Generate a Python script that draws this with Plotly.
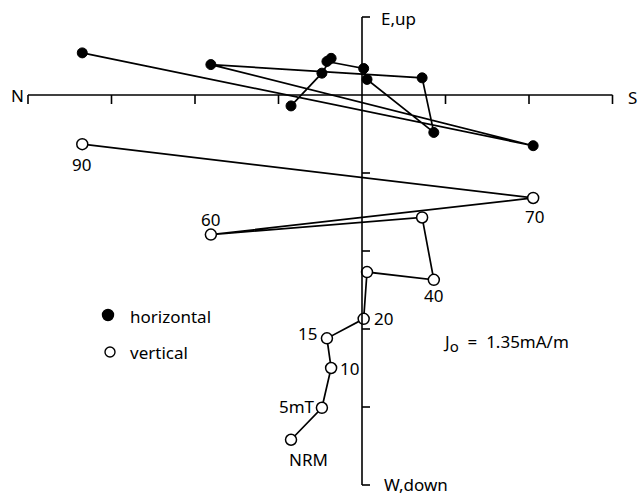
import plotly.graph_objects as go

# Demagnetisation steps (AF, mT)
steps = ["NRM", "5mT", "10", "15", "20", "30", "40", "50", "60", "70", "90"]
# N-S component (shared by both projections), S positive
x_ns = [-0.85, -0.48, -0.37, -0.42, 0.02, 0.06, 0.86, 0.72, -1.81, 2.05, -3.35]
# horizontal projection: E (up on plot) positive
h_ew = [-0.14, 0.28, 0.47, 0.43, 0.34, 0.20, -0.48, 0.22, 0.39, -0.65, 0.54]
# vertical projection: up positive
v_ud = [-4.42, -4.01, -3.50, -3.12, -2.87, -2.27, -2.37, -1.57, -1.79, -1.32, -0.63]

# label placement (pixel offsets) for labelled vertical points
label_pos = {
    "NRM": (-4, -20, "left"),
    "5mT": (-5, 1, "right"),
    "10": (7, 0, "left"),
    "15": (-8, 5, "right"),
    "20": (8, 0, "left"),
    "40": (0, -16, "center"),
    "60": (0, 15, "center"),
    "70": (1, -19, "center"),
    "90": (-1, -20, "center"),
}

x_ticks = [-4, -3, -2, -1, 1, 2, 3]
y_ticks = [1, -1, -2, -3, -4, -5]

FONT = "Noto Sans, DejaVu Sans, Liberation Sans, sans-serif"
FS = 17
W, H = 639, 495
px_x = 83.5
px_y = 78.0
x0_px, y0_px = 362, 95
xr = [-x0_px / px_x, (W - x0_px) / px_x]
yr = [-(H - y0_px) / px_y, y0_px / px_y]

fig = go.Figure()

fig.add_trace(go.Scatter(
    x=x_ns, y=h_ew, mode="lines+markers",
    line=dict(color="black", width=1.7),
    marker=dict(symbol="circle", size=10, color="black",
                line=dict(color="black", width=1)),
    showlegend=False, cliponaxis=False))
fig.add_trace(go.Scatter(
    x=x_ns, y=v_ud, mode="lines+markers",
    line=dict(color="black", width=1.7),
    marker=dict(symbol="circle", size=11, color="white",
                line=dict(color="black", width=1.5)),
    showlegend=False, cliponaxis=False))

shapes = []
ax_line = dict(color="black", width=1.6)
# horizontal (N-S) axis
shapes.append(dict(type="line", xref="x", yref="y", x0=min(x_ticks), x1=max(x_ticks),
                   y0=0, y1=0, line=ax_line))
tick_dy = 9 / px_y
for t in x_ticks:
    shapes.append(dict(type="line", xref="x", yref="y", x0=t, x1=t, y0=0, y1=-tick_dy,
                       line=ax_line))
# vertical axis
shapes.append(dict(type="line", xref="x", yref="y", x0=0, x1=0, y0=min(y_ticks),
                   y1=max(y_ticks), line=ax_line))
tick_dx = 8 / px_x
for t in y_ticks:
    shapes.append(dict(type="line", xref="x", yref="y", x0=0, x1=tick_dx, y0=t, y1=t,
                       line=ax_line))

# legend symbols (paper coords)
def circ(cx, cy, r, fill):
    return dict(type="circle", xref="paper", yref="paper",
                x0=(cx - r) / W, x1=(cx + r) / W,
                y0=1 - (cy + r) / H, y1=1 - (cy - r) / H,
                fillcolor=fill, line=dict(color="black", width=1.4))

shapes.append(circ(108, 315, 5.5, "black"))
shapes.append(circ(110, 352, 5, "white"))

ann = []
f = dict(family=FONT, size=FS, color="black")
for name, x, y in zip(steps, x_ns, v_ud):
    if name in label_pos:
        dx, dy, anchor = label_pos[name]
        ann.append(dict(x=x, y=y, xref="x", yref="y", text=name, showarrow=False,
                        xanchor=anchor, yanchor="middle", xshift=dx, yshift=dy, font=f))

def pann(text, px, py, xanchor="left", size=FS):
    ann.append(dict(x=px / W, y=1 - py / H, xref="paper", yref="paper", text=text,
                    showarrow=False, xanchor=xanchor, yanchor="middle",
                    font=dict(family=FONT, size=size, color="black")))

pann("N", 17, 95, "center")
pann("S", 632, 98, "center")
pann("E,up", 379, 18)
pann("W,down", 382, 484)
pann("horizontal", 128, 316)
pann("vertical", 128, 352)
pann("J<sub><span style='font-size:15px'>o</span></sub>  =  1.35mA/m", 441, 343)

fig.update_layout(
    width=W, height=H,
    margin=dict(l=0, r=0, t=0, b=0),
    paper_bgcolor="white", plot_bgcolor="white",
    xaxis=dict(range=xr, visible=False, fixedrange=True),
    yaxis=dict(range=yr, visible=False, fixedrange=True),
    shapes=shapes, annotations=ann, showlegend=False,
)

fig.write_html("out.html")
